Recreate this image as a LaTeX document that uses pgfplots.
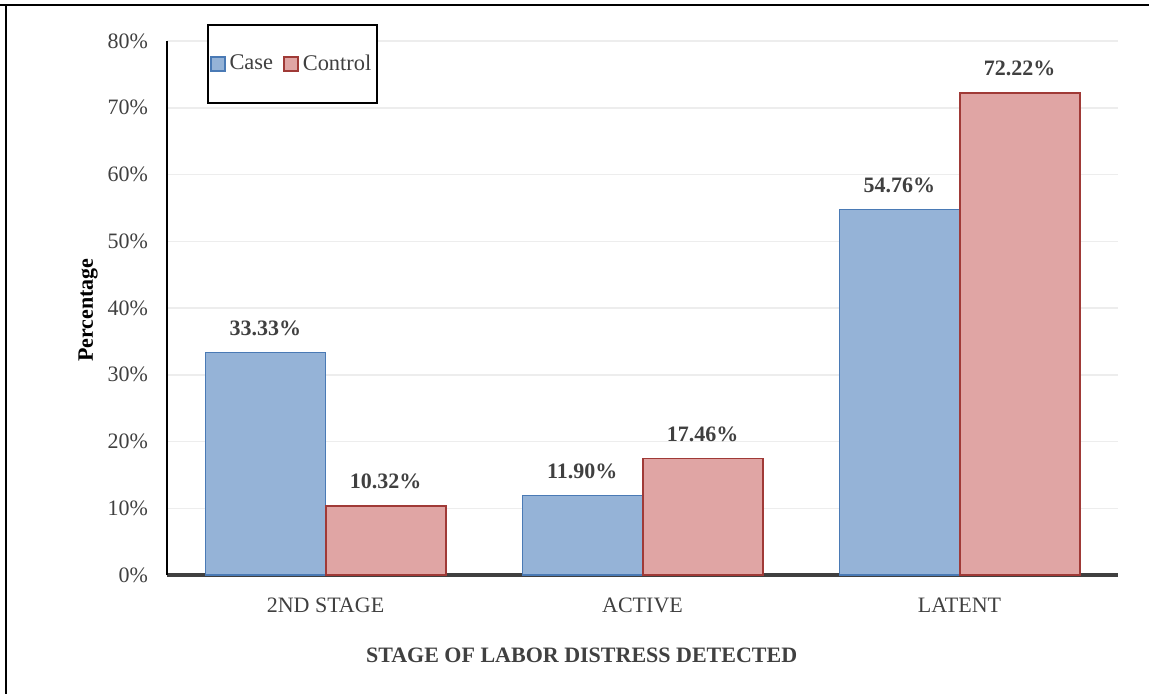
\documentclass[border=0pt]{standalone}
\usepackage{pgfplots}
\pgfplotsset{compat=1.18}
\usepackage{fontspec}
\setmainfont{Liberation Serif}
\definecolor{caseFill}{HTML}{95B3D7}
\definecolor{caseEdge}{HTML}{4A7AB5}
\definecolor{ctrlFill}{HTML}{E0A5A4}
\definecolor{ctrlEdge}{HTML}{A03A37}
\definecolor{txtGray}{HTML}{404040}
\definecolor{gridGray}{HTML}{EDEDED}
\newcommand{\chartfont}{\fontsize{11bp}{13bp}\selectfont}

\begin{document}
\begin{tikzpicture}
\path[use as bounding box] (0bp,0bp) rectangle (574.5bp,347bp);
% frame lines
\draw[line width=1bp] (0bp,344.5bp) -- (574.5bp,344.5bp);
\draw[line width=1bp] (3bp,0bp) -- (3bp,344.5bp);
\begin{axis}[
  at={(83.5bp,59.5bp)}, anchor=south west,
  scale only axis, width=475.5bp, height=267bp,
  xmin=-0.5, xmax=2.5, ymin=0, ymax=80,
  xtick={0,1,2}, xticklabels={2ND STAGE, ACTIVE, LATENT},
  ytick={0,10,...,80},
  yticklabel={\pgfmathprintnumber{\tick}\%},
  /pgf/number format/assume math mode=true,
  ymajorgrids, grid style={gridGray, line width=0.75bp},
  axis x line=bottom, axis y line=left,
  x axis line style={txtGray, line width=1.6bp, -},
  y axis line style={black, line width=1bp, -},
  major tick length=0pt,
  ticklabel style={font=\chartfont, text=txtGray},
  yticklabel style={xshift=-6bp},
  xticklabel style={yshift=-8bp},
  xlabel={STAGE OF LABOR DISTRESS DETECTED},
  xlabel style={at={(axis description cs:0.436,-0.15)}, anchor=center,
    font=\bfseries\chartfont, text=txtGray},
  ylabel={Percentage},
  ylabel style={at={(axis description cs:-0.083,0.496)}, anchor=center,
    font=\bfseries\chartfont, text=black},
  ybar,
  nodes near coords={\pgfmathprintnumber[fixed,fixed zerofill,precision=2]{\pgfplotspointmeta}\%},
  nodes near coords style={font=\bfseries\chartfont, text=txtGray, inner sep=0pt, anchor=south, yshift=8bp},
  legend style={at={(axis description cs:0.042,1.032)}, anchor=north west,
    draw=black, line width=0.8bp, legend columns=2,
    inner xsep=1bp, inner ysep=13bp, font=\fontsize{11.2bp}{13bp}\selectfont, text=txtGray,
    /tikz/every even column/.append style={column sep=3bp}},
  legend image code/.code={\draw[#1, line width=0.9bp] (0bp,-3.5bp) rectangle (7bp,3.5bp);},
  clip=false,
]
\addplot[ybar, bar width=0.379, bar shift=-0.19, fill=caseFill, draw=caseEdge, line width=0.7bp]
  coordinates {(0,33.33) (1,11.90) (2,54.76)};
\addplot[ybar, bar width=0.379, bar shift=0.19, fill=ctrlFill, draw=ctrlEdge, line width=0.9bp]
  coordinates {(0,10.32) (1,17.46) (2,72.22)};
\legend{Case, Control}
\end{axis}
\end{tikzpicture}
\end{document}
